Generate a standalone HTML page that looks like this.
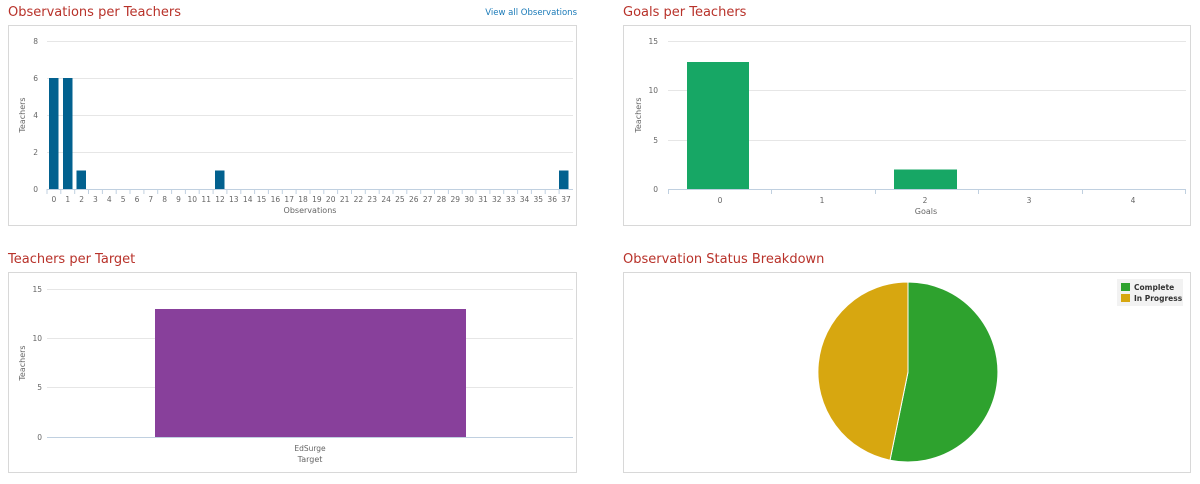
<!DOCTYPE html>
<html><head><style>
body{margin:0;background:#fff;width:1200px;height:480px;overflow:hidden;font-family:"DejaVu Sans","Liberation Sans",sans-serif}
</style></head><body>
<svg width="1200" height="480" xmlns="http://www.w3.org/2000/svg" font-family="DejaVu Sans, Liberation Sans, sans-serif">
<g font-size="13" fill="#b8322a">
<text x="8" y="16">Observations per Teachers</text>
<text x="623" y="16">Goals per Teachers</text>
<text x="8" y="263">Teachers per Target</text>
<text x="623" y="263">Observation Status Breakdown</text>
</g>
<text x="577" y="15" font-size="8.5" fill="#1a7ab8" text-anchor="end">View all Observations</text>
<g fill="#fff" stroke="#d8d8d8">
<rect x="8.5" y="25.5" width="568" height="200"/>
<rect x="623.5" y="25.5" width="567" height="200"/>
<rect x="8.5" y="272.5" width="568" height="200"/>
<rect x="623.5" y="272.5" width="567" height="200"/>
</g>
<!-- chart 1 -->
<g stroke="#e6e6e6"><line x1="47" x2="573" y1="41.5" y2="41.5"/><line x1="47" x2="573" y1="78.5" y2="78.5"/><line x1="47" x2="573" y1="115.5" y2="115.5"/><line x1="47" x2="573" y1="152.5" y2="152.5"/></g>
<line x1="47" x2="573" y1="189.5" y2="189.5" stroke="#c0d0e0"/>
<g font-size="7.5" fill="#666" text-anchor="end"><text x="38" y="44">8</text><text x="38" y="81">6</text><text x="38" y="118">4</text><text x="38" y="155">2</text><text x="38" y="192">0</text></g>
<g fill="#02618f"><rect x="49" y="78" width="9.5" height="111"/><rect x="63" y="78" width="9.5" height="111"/><rect x="76.5" y="170.5" width="9.5" height="18.5"/><rect x="215" y="170.5" width="9.5" height="18.5"/><rect x="559" y="170.5" width="9.5" height="18.5"/></g>
<g id="t1" font-size="7.5" fill="#666" text-anchor="middle"></g>
<text x="310" y="213" font-size="8" fill="#666" text-anchor="middle">Observations</text>
<text transform="translate(25,115) rotate(-90)" font-size="8" fill="#666" text-anchor="middle">Teachers</text>
<!-- chart 2 -->
<g stroke="#e6e6e6"><line x1="668" x2="1186" y1="41.5" y2="41.5"/><line x1="668" x2="1186" y1="90.5" y2="90.5"/><line x1="668" x2="1186" y1="140.5" y2="140.5"/></g>
<line x1="668" x2="1186" y1="189.5" y2="189.5" stroke="#c0d0e0"/>
<g font-size="7.5" fill="#666" text-anchor="end"><text x="658" y="44">15</text><text x="658" y="93">10</text><text x="658" y="143">5</text><text x="658" y="192">0</text></g>
<g fill="#17a765"><rect x="687" y="62" width="62" height="127"/><rect x="894" y="169.5" width="63" height="19.5"/></g>
<g stroke="#c0d0e0"><line x1="668.5" x2="668.5" y1="189" y2="194"/><line x1="771.5" x2="771.5" y1="189" y2="194"/><line x1="875.5" x2="875.5" y1="189" y2="194"/><line x1="978.5" x2="978.5" y1="189" y2="194"/><line x1="1082.5" x2="1082.5" y1="189" y2="194"/><line x1="1185.5" x2="1185.5" y1="189" y2="194"/></g>
<g font-size="7.5" fill="#666" text-anchor="middle"><text x="720" y="203">0</text><text x="822" y="203">1</text><text x="925" y="203">2</text><text x="1029" y="203">3</text><text x="1133" y="203">4</text></g>
<text x="926" y="214" font-size="8" fill="#666" text-anchor="middle">Goals</text>
<text transform="translate(641,115) rotate(-90)" font-size="8" fill="#666" text-anchor="middle">Teachers</text>
<!-- chart 3 -->
<g stroke="#e6e6e6"><line x1="47" x2="573" y1="289.5" y2="289.5"/><line x1="47" x2="573" y1="338.5" y2="338.5"/><line x1="47" x2="573" y1="387.5" y2="387.5"/></g>
<line x1="47" x2="573" y1="437.5" y2="437.5" stroke="#c0d0e0"/>
<g font-size="7.5" fill="#666" text-anchor="end"><text x="42" y="292">15</text><text x="42" y="341">10</text><text x="42" y="390">5</text><text x="42" y="440">0</text></g>
<rect x="155" y="309" width="311" height="128" fill="#88409b"/>
<text x="310" y="451" font-size="7.5" fill="#666" text-anchor="middle">EdSurge</text>
<text x="310" y="462" font-size="8" fill="#666" text-anchor="middle">Target</text>
<text transform="translate(25,363) rotate(-90)" font-size="8" fill="#666" text-anchor="middle">Teachers</text>
<!-- pie -->
<path d="M908,372 L908,282 A90,90 0 1 1 890,460.2 Z" fill="#2ea22e" stroke="#fff" stroke-width="1"/>
<path d="M908,372 L890,460.2 A90,90 0 0 1 908,282 Z" fill="#d7a710" stroke="#fff" stroke-width="1"/>
<rect x="1117" y="279" width="66" height="27" fill="#f2f2f2"/>
<rect x="1121" y="283" width="9" height="8" fill="#2ea22e"/>
<rect x="1121" y="294" width="9" height="8" fill="#d7a710"/>
<g font-size="7.5" fill="#333" font-weight="bold"><text x="1134" y="290">Complete</text><text x="1134" y="301">In Progress</text></g>
</svg>
<script>
var g=document.getElementById('t1'),s='';
for(var i=0;i<38;i++){var x=47+13.84*(i+0.5);s+='<text x="'+x.toFixed(1)+'" y="202">'+i+'</text>';
var tx=(47+13.84*i).toFixed(1);s+='<line x1="'+tx+'" x2="'+tx+'" y1="189" y2="194" stroke="#c0d0e0"/>';}
g.innerHTML=s;
</script>
</body></html>
